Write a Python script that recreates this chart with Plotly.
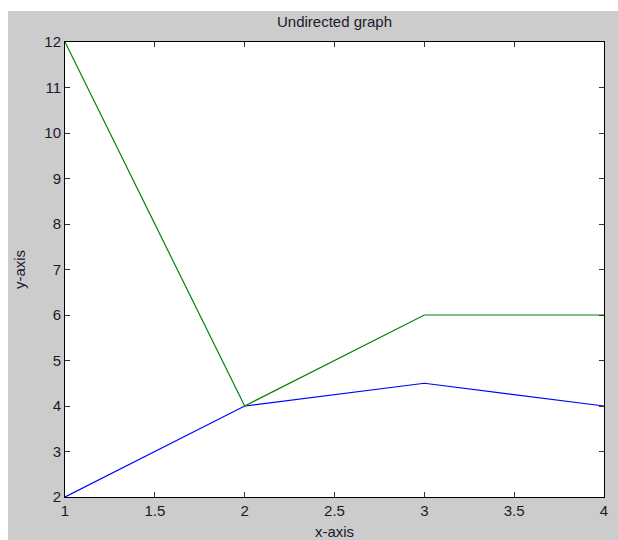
import plotly.graph_objects as go

x_vals = [1, 2, 3, 4]
blue_y = [2, 4, 4.5, 4]
green_y = [12, 4, 6, 6]
x_ticks = [1, 1.5, 2, 2.5, 3, 3.5, 4]
x_tick_labels = ["1", "1.5", "2", "2.5", "3", "3.5", "4"]
y_ticks = [2, 3, 4, 5, 6, 7, 8, 9, 10, 11, 12]

W, H = 618, 540
L, R, T, B = 65, 14, 42, 43
pw, ph = W - L - R, H - T - B

FONT = "Liberation Sans, Arial, sans-serif"
TXT = "#1a1a2a"

def px_x(p):
    return (p - L) / pw

def px_y(p):
    return (H - B - p) / ph

fig = go.Figure()
fig.add_trace(go.Scatter(x=x_vals, y=blue_y, mode="lines",
                         line=dict(color="#0000ff", width=1.2), showlegend=False))
fig.add_trace(go.Scatter(x=x_vals, y=green_y, mode="lines",
                         line=dict(color="#008000", width=1.2), showlegend=False))

axis_common = dict(showgrid=False, zeroline=False, showline=True, linecolor="#000000",
                   linewidth=1, mirror="ticks", ticks="inside", ticklen=5, automargin=False,
                   tickcolor="#333333", tickfont=dict(family=FONT, size=15, color=TXT))

fig.update_xaxes(range=[1, 4], tickvals=x_ticks, ticktext=x_tick_labels,
                 title=dict(text="x-axis", font=dict(family=FONT, size=15, color=TXT)),
                 **axis_common)
fig.update_yaxes(range=[2, 12], tickvals=y_ticks,
                 title=dict(text="y-axis", font=dict(family=FONT, size=15, color=TXT)),
                 **axis_common)

fig.update_layout(
    width=W, height=H,
    margin=dict(l=L, r=R, t=T, b=B),
    paper_bgcolor="#cccccc",
    plot_bgcolor="#ffffff",
    title=dict(text="Undirected graph", x=(L + pw / 2) / W, xanchor="center",
               y=1 - 22 / H, yanchor="middle",
               font=dict(family=FONT, size=15, color=TXT)),
    shapes=[
        dict(type="rect", xref="paper", yref="paper", layer="below",
             x0=px_x(-5), x1=px_x(W + 5), y0=px_y(11), y1=px_y(-5),
             fillcolor="#ffffff", line=dict(width=0)),
        dict(type="rect", xref="paper", yref="paper", layer="below",
             x0=px_x(-5), x1=px_x(8), y0=px_y(H + 5), y1=px_y(-5),
             fillcolor="#ffffff", line=dict(width=0)),
    ],
)

fig.write_html("out.html", config={"displayModeBar": False},
               post_script="document.body.style.margin='0px';")
